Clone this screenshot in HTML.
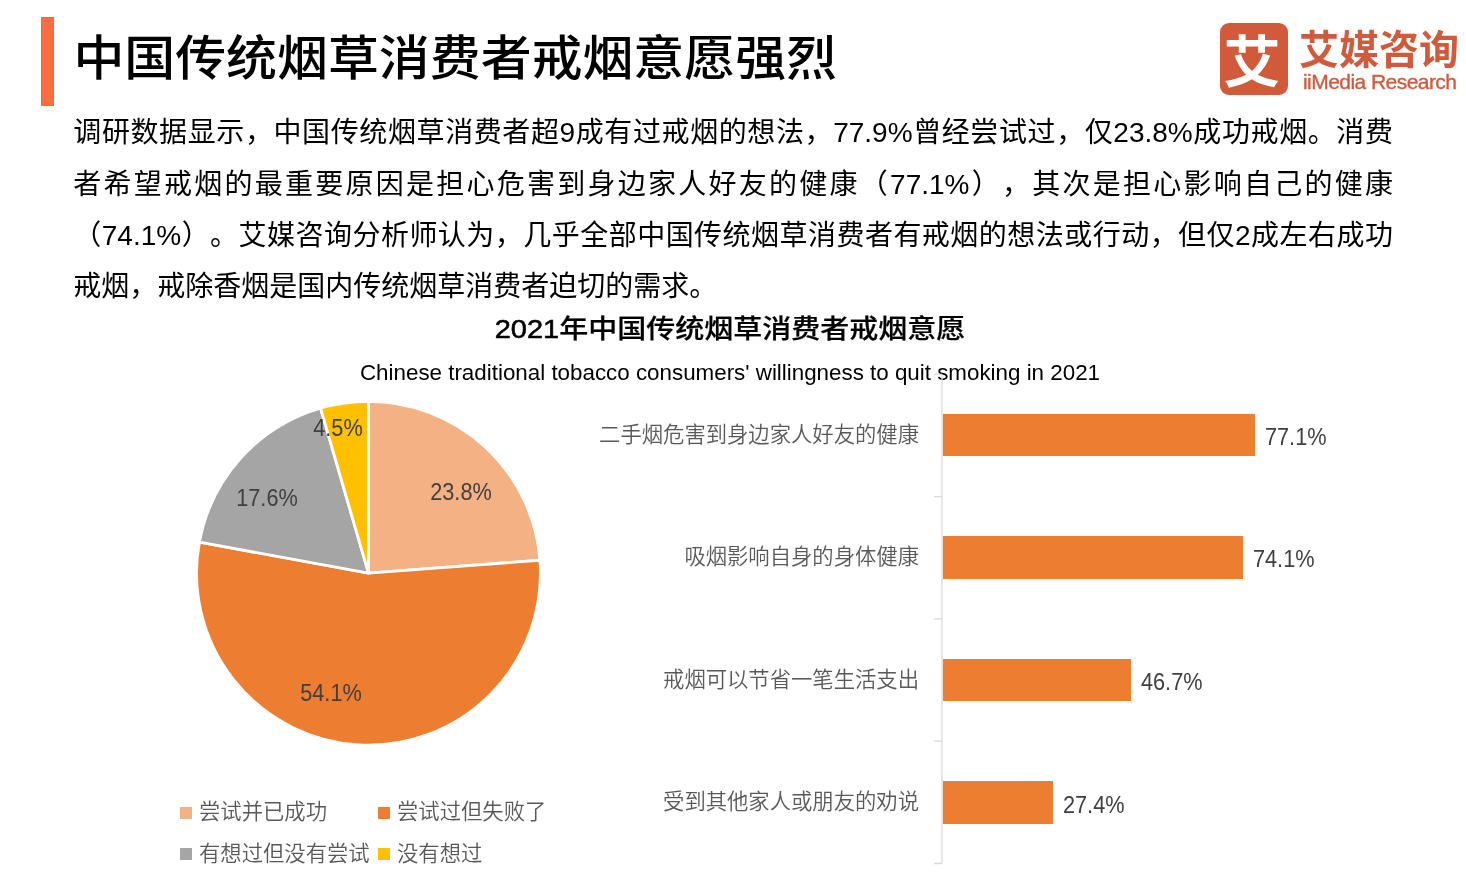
<!DOCTYPE html>
<html lang="zh-CN">
<head>
<meta charset="utf-8">
<title>中国传统烟草消费者戒烟意愿强烈</title>
<style>
  html, body { margin: 0; padding: 0; background: #ffffff; }
  body { width: 1466px; height: 874px; position: relative; overflow: hidden;
    font-family: "Liberation Sans", "Noto Sans CJK SC", sans-serif; color: #000; }
  .abs { position: absolute; white-space: nowrap; }
  #accent { left: 41px; top: 17px; width: 13px; height: 89px; background: #FC6C41; box-sizing: border-box; border: 1px solid #FE652F; }
  #title { left: 73.4px; top: 24.2px; font-size: 50.92px; line-height: 74px; font-weight: 500; transform: scaleY(0.942); transform-origin: 0 0; }
  .body-line { left: 73.3px; width: 1319.7px; text-spacing-trim: space-all; font-size: 28px; line-height: 40px; height: 40px;
    text-align: justify; text-align-last: justify; white-space: normal; }
  .body-last { text-align: left; text-align-last: left; }
  #ctitle { left: 0; width: 1460px; top: 308px; text-align: center; font-size: 29px; line-height: 40px; font-weight: 500; -webkit-text-stroke: 0.25px #000; transform: scaleY(0.91); transform-origin: 50% 32.9px; }
  #ctitle span { -webkit-text-stroke: 0.6px #000; }
  #csub { left: 0; width: 1460px; top: 357.8px; text-align: center; font-size: 22.37px; line-height: 30px; }
  .plabel { font-size: 21.7px; line-height: 30px; color: #404040; font-weight: 300; transform: translate(-50%, -50%) scaleY(1.08); }
  .cat { right: 547px; font-size: 21.33px; line-height: 30px; color: #595959; font-weight: 350; }
  .bar { left: 942.7px; height: 42.8px; background: #ED7D31; }
  .val { font-size: 21.7px; line-height: 30px; color: #404040; font-weight: 300; transform: scaleY(1.08); transform-origin: 0 50%; }
  .lsq { width: 12px; height: 12px; }
  .ltx { font-size: 21.33px; line-height: 30px; color: #595959; font-weight: 350; }
  #logo-sq { left: 1220.2px; top: 23.2px; width: 68.2px; height: 71.6px; border-radius: 9px; background: #D15A3A; overflow: hidden; }
  #logo-ai { left: 1223.5px; top: 23px; font-size: 57px; line-height: 80px; color: #fff; font-weight: 700; transform: scaleY(0.97); }
  #logo-cn { left: 1299px; top: 21.5px; font-size: 40px; line-height: 56px; color: #D15A3A; font-weight: 700; }
  #logo-en { left: 1303px; top: 69px; font-size: 21px; line-height: 26px; color: #D15A3A; font-weight: 400; letter-spacing: -0.55px; -webkit-text-stroke: 0.35px #D15A3A; }
</style>
</head>
<body>
<div class="abs" id="accent"></div>
<div class="abs" id="title">中国传统烟草消费者戒烟意愿强烈</div>

<div class="abs" id="logo-sq"></div>
<div class="abs" id="logo-ai">艾</div>
<div class="abs" id="logo-cn">艾媒咨询</div>
<div class="abs" id="logo-en">iiMedia Research</div>

<div class="abs body-line" style="top:113.4px">调研数据显示，中国传统烟草消费者超9成有过戒烟的想法，77.9%曾经尝试过，仅23.8%成功戒烟。消费</div>
<div class="abs body-line" style="top:164.5px">者希望戒烟的最重要原因是担心危害到身边家人好友的健康（77.1%），其次是担心影响自己的健康</div>
<div class="abs body-line" style="top:215.5px">（74.1%）。艾媒咨询分析师认为，几乎全部中国传统烟草消费者有戒烟的想法或行动，但仅2成左右成功</div>
<div class="abs body-line body-last" style="top:266.5px">戒烟，戒除香烟是国内传统烟草消费者迫切的需求。</div>

<div class="abs" id="ctitle"><span>2021</span>年中国传统烟草消费者戒烟意愿</div>
<div class="abs" id="csub">Chinese traditional tobacco consumers' willingness to quit smoking in 2021</div>

<svg class="abs" id="chart" style="left:0;top:0" width="1466" height="874" viewBox="0 0 1466 874">
  <g id="pie" stroke="#ffffff" stroke-width="2.8" stroke-linejoin="round">
    <path fill="#F4B183" d="M368.5 573.2 L368.50 401.30 A171.9 171.9 0 0 1 539.91 560.25 Z"/>
    <path fill="#ED7D31" d="M368.5 573.2 L539.91 560.25 A171.9 171.9 0 1 1 199.45 542.05 Z"/>
    <path fill="#A5A5A5" d="M368.5 573.2 L199.45 542.05 A171.9 171.9 0 0 1 320.54 408.13 Z"/>
    <path fill="#FFC000" d="M368.5 573.2 L320.54 408.13 A171.9 171.9 0 0 1 368.50 401.30 Z"/>
  </g>
  <g stroke="#D9D9D9" stroke-width="1.3" fill="none">
    <path d="M942 374.3 V863.5 M934 374.3 H942 M934 496.6 H942 M934 618.9 H942 M934 741.2 H942 M934 863.5 H942"/>
  </g>
</svg>

<div class="abs plabel" style="left:461px;top:492.3px">23.8%</div>
<div class="abs plabel" style="left:331px;top:693.3px">54.1%</div>
<div class="abs plabel" style="left:267px;top:498.3px">17.6%</div>
<div class="abs plabel" style="left:338px;top:428.3px">4.5%</div>

<div class="abs lsq" style="left:179.5px;top:806.5px;background:#F4B183"></div>
<div class="abs ltx" style="left:199px;top:797px">尝试并已成功</div>
<div class="abs lsq" style="left:378px;top:806.5px;background:#ED7D31"></div>
<div class="abs ltx" style="left:397px;top:797px">尝试过但失败了</div>
<div class="abs lsq" style="left:179.5px;top:848px;background:#A5A5A5"></div>
<div class="abs ltx" style="left:199px;top:838.5px">有想过但没有尝试</div>
<div class="abs lsq" style="left:378px;top:848px;background:#FFC000"></div>
<div class="abs ltx" style="left:397px;top:838.5px">没有想过</div>

<div class="abs cat" style="top:420px">二手烟危害到身边家人好友的健康</div>
<div class="abs cat" style="top:542px">吸烟影响自身的身体健康</div>
<div class="abs cat" style="top:664.5px">戒烟可以节省一笔生活支出</div>
<div class="abs cat" style="top:786.5px">受到其他家人或朋友的劝说</div>

<div class="abs bar" style="top:413.7px;width:312.3px"></div>
<div class="abs bar" style="top:536px;width:300.3px"></div>
<div class="abs bar" style="top:658.6px;width:188.7px"></div>
<div class="abs bar" style="top:781px;width:110.3px"></div>

<div class="abs val" style="left:1265px;top:422.4px">77.1%</div>
<div class="abs val" style="left:1253px;top:544.4px">74.1%</div>
<div class="abs val" style="left:1141px;top:667.2px">46.7%</div>
<div class="abs val" style="left:1063px;top:790px">27.4%</div>

</body>
</html>
